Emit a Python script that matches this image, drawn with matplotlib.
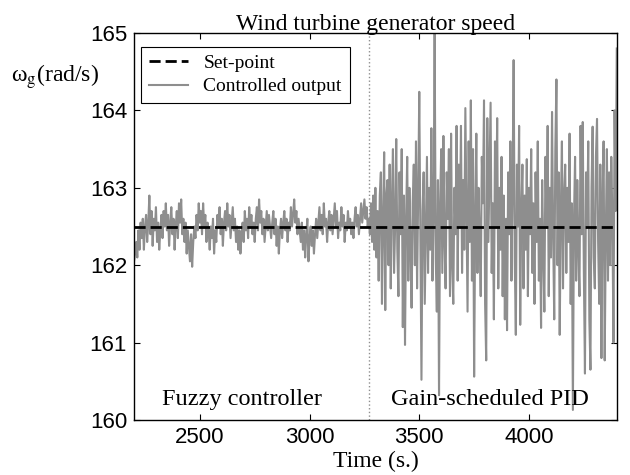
import numpy as np
import matplotlib
matplotlib.use('Agg')
import matplotlib.pyplot as plt

# generator speed, one sample every 5 s from t = 2200 s
t_start = 2200
dt = 5
switch_time = 3270
set_point = 162.5

# fuzzy controller part (2200 .. 3265 s)
fuzzy_speed = [
    162.05, 162.15, 162.3, 162.1, 162.45, 162.2, 162.55, 162.35, 162.6, 162.2, 162.5, 162.65, 162.3,
    162.55, 162.9, 162.4, 162.7, 162.25, 162.6, 162.45, 162.75, 162.3, 162.55, 162.2, 162.45, 162.65, 162.35,
    162.7, 162.5, 162.8, 162.45, 162.65, 162.25, 162.55, 162.75, 162.4, 162.6, 162.2, 162.5, 162.7, 162.35,
    162.8, 162.55, 162.85, 162.4, 162.6, 162.3, 162.55, 162.15, 162.45, 162.25, 162.05, 162.4, 161.98, 162.3,
    162.5, 162.35, 162.65, 162.45, 162.8, 162.55, 162.7, 162.4, 162.8, 162.5, 162.65, 162.3, 162.55, 162.45,
    162.2, 162.5, 162.35, 162.6, 162.15, 162.45, 162.3, 162.65, 162.5, 162.75, 162.4, 162.6, 162.25, 162.55,
    162.7, 162.45, 162.8, 162.5, 162.65, 162.35, 162.55, 162.75, 162.45, 162.6, 162.3, 162.5, 162.2, 162.45,
    162.15, 162.4, 162.55, 162.3, 162.7, 162.45, 162.6, 162.35, 162.75, 162.5, 162.65, 162.4, 162.55, 162.3,
    162.6, 162.75, 162.45, 162.85, 162.55, 162.7, 162.4, 162.6, 162.3, 162.5, 162.7, 162.45, 162.65, 162.5,
    162.35, 162.55, 162.7, 162.4, 162.6, 162.25, 162.5, 162.15, 162.45, 162.6, 162.35, 162.55, 162.7, 162.45,
    162.6, 162.3, 162.55, 162.45, 162.75, 162.5, 162.65, 162.85, 162.55, 162.7, 162.4, 162.6, 162.45, 162.3,
    162.55, 162.2, 162.45, 162.1, 162.4, 162.6, 162.05, 162.35, 162.5, 162.25, 162.45, 162.15, 162.4, 162.6,
    162.35, 162.55, 162.75, 162.45, 162.65, 162.4, 162.8, 162.5, 162.6, 162.3, 162.55, 162.7, 162.45, 162.65,
    162.4, 162.6, 162.8, 162.5, 162.7, 162.35, 162.55, 162.45, 162.75, 162.5, 162.65, 162.3, 162.55, 162.45,
    162.7, 162.5, 162.6, 162.4, 162.55, 162.35, 162.6, 162.75, 162.5, 162.65, 162.4, 162.6, 162.8, 162.55,
    162.7, 162.85, 162.6, 162.75, 162.5,
]

# gain-scheduled PID part (3270 .. 4400 s)
pid_speed = [
    162.6, 162.4, 162.8, 162.3, 162.9, 162.2, 163.0, 162.1, 162.7, 161.8, 162.9, 163.2, 161.5,
    162.6, 163.46, 161.42, 162.9, 163.1, 162.0, 163.3, 161.7, 162.8, 163.5, 161.9, 162.5, 163.63, 162.2,
    161.6, 163.2, 162.4, 163.5, 161.2, 162.9, 160.97, 162.6, 163.4, 161.8, 163.0, 162.3, 161.45, 162.8,
    163.3, 162.0, 163.6, 161.7, 162.9, 164.24, 162.4, 160.52, 162.7, 163.2, 161.5, 162.5, 163.4, 161.9,
    163.0, 162.2, 163.77, 161.8, 162.6, 165.0, 162.1, 161.4, 163.1, 160.32, 162.8, 163.5, 161.9, 163.67,
    162.3, 161.7, 163.2, 162.6, 163.5, 161.6, 163.7, 162.0, 161.5, 163.0, 162.4, 163.8, 161.8, 163.3,
    162.5, 163.8, 161.9, 163.1, 162.2, 164.03, 162.7, 161.4, 163.6, 162.3, 164.13, 161.8, 163.5, 160.56,
    162.6, 163.7, 161.9, 163.0, 162.4, 161.6, 163.4, 162.8, 164.13, 161.5, 160.77, 163.9, 162.3, 163.2,
    164.1, 161.9, 162.8, 161.3, 163.6, 162.5, 163.9, 161.7, 163.0, 162.2, 163.4, 161.6, 162.9, 161.3,
    162.6, 161.16, 163.2, 162.4, 163.6, 161.8, 163.0, 164.65, 162.1, 161.1, 163.3, 162.5, 163.8, 161.23,
    162.7, 163.3, 161.7, 162.9, 162.2, 163.37, 161.6, 163.0, 162.4, 163.5, 161.9, 162.8, 161.5, 163.2,
    162.3, 163.6, 161.8, 162.6, 161.19, 163.1, 162.2, 161.4, 163.4, 162.5, 163.8, 161.6, 163.0, 162.1,
    163.98, 162.4, 161.3, 163.5, 164.4, 162.0, 163.2, 161.1, 162.7, 163.6, 161.7, 162.9, 163.3, 161.9,
    163.0, 162.3, 163.7, 161.5, 162.8, 160.13, 162.6, 163.4, 161.8, 163.1, 162.2, 161.6, 163.8, 162.4,
    163.85, 161.9, 160.6, 163.2, 162.5, 163.6, 161.3, 160.65, 163.0, 163.79, 162.1, 161.7, 163.4, 163.89,
    162.3, 161.5, 163.3, 160.8, 162.8, 163.6, 160.77, 162.4, 163.5, 161.8, 163.2, 162.0, 163.4, 162.6,
    161.0, 164.0, 162.7, 164.8,
]

x_ticks = [2500, 3000, 3500, 4000]
y_ticks = [160, 161, 162, 163, 164, 165]

speed = np.array(fuzzy_speed + pid_speed)
time = t_start + dt * np.arange(len(speed))

plt.rcParams['font.family'] = 'Liberation Serif'
plt.rcParams['mathtext.fontset'] = 'stix'

fig = plt.figure(figsize=(6.3, 4.75), dpi=100)
ax = fig.add_axes([0.2127, 0.1158, 0.7663, 0.8147])

ax.plot([time[0], time[-1]], [set_point, set_point], color='black', linestyle='--',
        linewidth=2, dashes=(4, 1.8), label='Set-point', zorder=3)
ax.plot(time, speed, color='#8e8e8e', linewidth=1.5, label='Controlled output', zorder=2)
ax.axvline(switch_time, color='#8e8e8e', linestyle=':', linewidth=1, zorder=1)

ax.set_xlim(2200, 4400)
ax.set_ylim(160, 165)
ax.set_xticks(x_ticks)
ax.set_yticks(y_ticks)
ax.tick_params(direction='in', top=True, right=True, length=4, width=0.8, pad=5)
for lab in ax.get_xticklabels() + ax.get_yticklabels():
    lab.set_family('Liberation Sans')
    lab.set_fontsize(16)
for sp in ax.spines.values():
    sp.set_linewidth(1)

ax.set_title('Wind turbine generator speed', fontsize=17, pad=2)
ax.set_xlabel('Time (s.)', fontsize=17, labelpad=2)
fig.text(0.018, 0.838, 'ω$_{\\mathrm{g}}$(rad/s)', fontsize=17, va='center', ha='left')

ax.text(2690, 160.27, 'Fuzzy controller', fontsize=17.5, ha='center', va='center')
ax.text(3823, 160.27, 'Gain-scheduled PID', fontsize=17.5, ha='center', va='center')

leg = ax.legend(loc='upper left', fontsize=14, frameon=True, fancybox=False,
                edgecolor='black', framealpha=1, handlelength=2.0,
                borderpad=0.4, labelspacing=0.3, borderaxespad=0,
                bbox_to_anchor=(0.015, 0.965))
leg.get_frame().set_linewidth(0.8)

fig.savefig('out.png', dpi=100)
